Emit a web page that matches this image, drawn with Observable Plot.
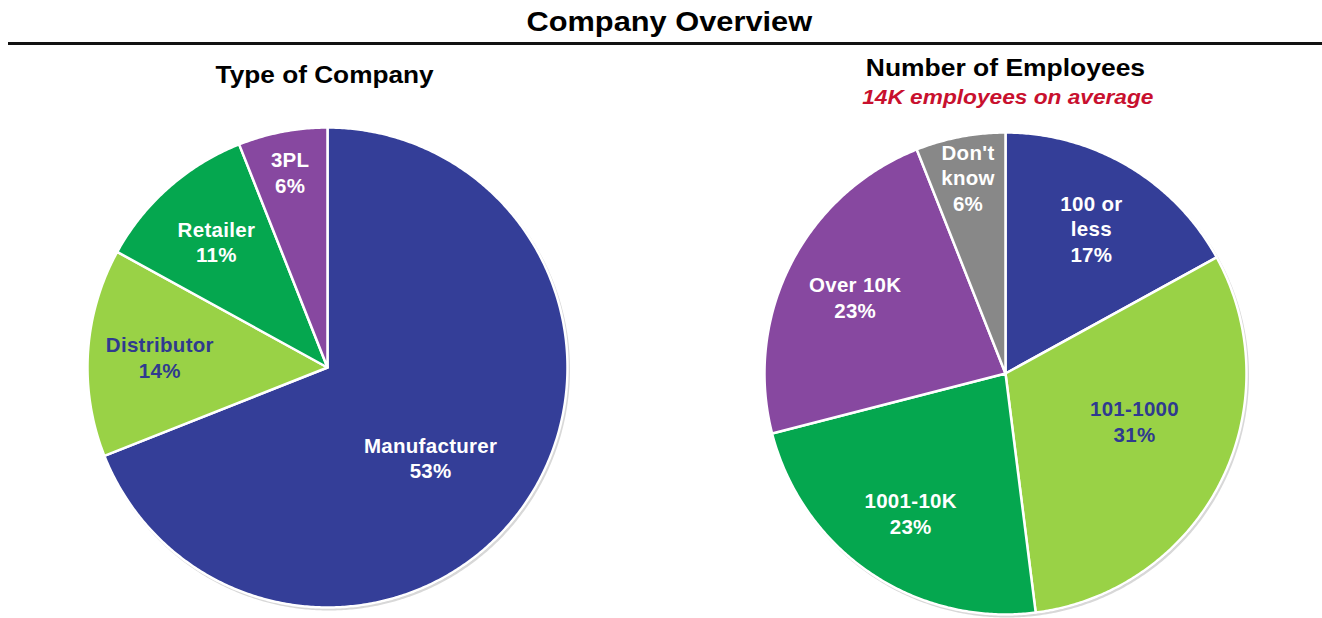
<!DOCTYPE html>
<html>
<head>
<meta charset="utf-8">
<script src="https://cdn.jsdelivr.net/npm/d3@7"></script>
<script src="https://cdn.jsdelivr.net/npm/@observablehq/plot@0.6"></script>
<style>
  html, body { margin: 0; padding: 0; background: #fff; }
  body { width: 1322px; height: 618px; overflow: hidden; font-family: "Liberation Sans", Arial, sans-serif; }
  #root { position: relative; width: 1322px; height: 618px; }
  .t { position: absolute; text-align: center; line-height: 1; white-space: nowrap; font-weight: bold; color: #000; }
  .t span { display: inline-block; transform-origin: 50% 50%; }
  .pie { position: absolute; }
</style>
</head>
<body>
<div id="root">
  <div class="t" style="left:0;width:1338px;top:9px;font-size:27px;"><span style="transform:scaleX(1.14)">Company Overview</span></div>
  <div style="position:absolute;left:8px;top:42px;width:1314px;height:2.5px;background:#111;"></div>
  <div class="t" style="left:0;width:650px;top:64px;font-size:23px;"><span style="transform:scaleX(1.14)">Type of Company</span></div>
  <div class="t" style="left:705px;width:600px;top:57px;font-size:23px;"><span style="transform:scaleX(1.15)">Number of Employees</span></div>
  <div class="t" style="left:708px;width:600px;top:86px;font-size:21px;font-style:italic;color:#C8102E;"><span style="transform:scaleX(1.08)">14K employees on average</span></div>
  <div id="pie1" class="pie" style="left:79px;top:119px;"></div>
  <div id="pie2" class="pie" style="left:756px;top:124px;"></div>
</div>
<script>
// ---- Data ----
const typeCategories = ["Manufacturer", "Distributor", "Retailer", "3PL"];
const typeWedge = [69, 14, 11, 6];          // share drawn as wedge size
const typePrinted = [53, 14, 11, 6];        // percentage printed in the label
const typeColors = ["#343E98", "#99D246", "#05A74F", "#8748A0"];

const empCategories = ["100 or\nless", "101-1000", "1001-10K", "Over 10K", "Don't\nknow"];
const empShares = [17, 31, 23, 23, 6];
const empColors = ["#343E98", "#99D246", "#05A74F", "#8748A0", "#888888"];

const lightGreen = "#99D246";
const darkLabel = "#2F3A8F";

function buildPie(cats, sizes, printed, colors) {
  const total = d3.sum(sizes);
  let acc = 0;
  return cats.map((c, i) => {
    const a0 = acc / total * 2 * Math.PI;
    acc += sizes[i];
    const a1 = acc / total * 2 * Math.PI;
    const ring = [[0, 0]];
    const n = Math.max(2, Math.ceil((a1 - a0) / (Math.PI / 360)));
    for (let k = 0; k <= n; k++) {
      const a = a0 + (a1 - a0) * k / n;
      ring.push([Math.sin(a), -Math.cos(a)]);
    }
    ring.push([0, 0]);
    const p = sizes[i] / total;
    const rf = p > 0.3 ? 0.57 : p > 0.08 ? 0.7 : 0.83;
    // large wedges: label pulled a little toward the lower side, as in the reference
    const am = p > 0.3 ? (a0 + a1) / 2 - (p > 0.5 ? -0.12 : 0.12) : (a0 + a1) / 2;
    return {
      name: c,
      label: `${c}\n${printed[i]}%`,
      color: colors[i],
      textColor: colors[i] === lightGreen ? darkLabel : "#ffffff",
      lx: rf * Math.sin(am),
      ly: -rf * Math.cos(am),
      feature: {type: "Feature", properties: {name: c}, geometry: {type: "Polygon", coordinates: [ring]}}
    };
  });
}

function circleFeature() {
  const ring = d3.range(0, 721).map(k => [Math.sin(k * Math.PI / 360), -Math.cos(k * Math.PI / 360)]);
  return {type: "Feature", properties: {}, geometry: {type: "Polygon", coordinates: [ring]}};
}

function drawPie(el, slices, R) {
  const m = 8;
  const size = 2 * R + 2 * m;
  const proj = d3.geoIdentity().scale(R).translate([m + R, m + R]);
  const chart = Plot.plot({
    width: size,
    height: size,
    margin: 0,
    projection: proj,
    style: {fontFamily: "'Liberation Sans', Arial, sans-serif", letterSpacing: "0.3px", background: "transparent"},
    marks: [
      Plot.geo([circleFeature()], {fill: "#c9c9c9", dx: 1.5, dy: 2, stroke: "#d8d8d8", strokeWidth: 2}),
      Plot.geo(slices.map(d => d.feature), {
        fill: (d, i) => slices[i].color,
        stroke: "#ffffff",
        strokeWidth: 2.5,
        strokeLinejoin: "round"
      }),
      Plot.text(slices, {
        x: "lx",
        y: "ly",
        text: "label",
        fill: "textColor",
        fontSize: 20.5,
        fontWeight: "bold",
        lineHeight: 1.24
      })
    ]
  });
  document.getElementById(el).appendChild(chart);
}

drawPie("pie1", buildPie(typeCategories, typeWedge, typePrinted, typeColors), 240);
drawPie("pie2", buildPie(empCategories, empShares, empShares, empColors), 241);
</script>
</body>
</html>
